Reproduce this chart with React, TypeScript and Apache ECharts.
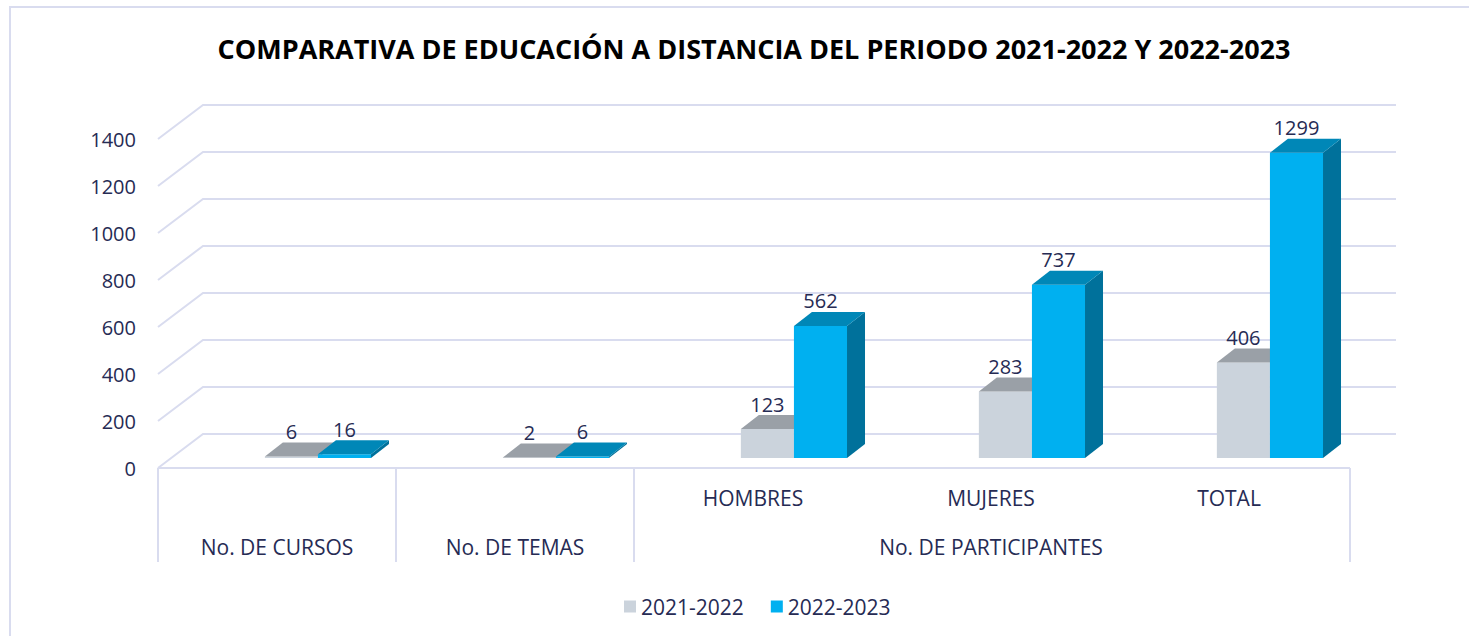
import React, { useEffect, useRef } from "react";
import * as echarts from "echarts";

const subCategories = ["", "", "HOMBRES", "MUJERES", "TOTAL"];
const groupNames = ["No. DE CURSOS", "No. DE TEMAS", "No. DE PARTICIPANTES"];
const groupStart = [0, 1, 2];
const groupEnd = [0, 1, 4];
const seriesNames = ["2021-2022", "2022-2023"];
const values2122 = [6, 2, 123, 283, 406];
const values2223 = [16, 6, 562, 737, 1299];
const yTicks = [0, 200, 400, 600, 800, 1000, 1200, 1400];
const titleText = "COMPARATIVA DE EDUCACIÓN A DISTANCIA DEL PERIODO 2021-2022 Y 2022-2023";

const FONT = "'Open Sans', sans-serif";
const TEXT = "#262B54";
const LINE = "#D9DCEF";
const DEPTH_X = 45;
const DEPTH_Y = -34;
const FS_NUM = 20;
const FS_CAT = 21;

const barColors = [
  { front: "#CBD3DC", top: "#9AA0A7", side: "#8A9096" },
  { front: "#00B0F0", top: "#0087B7", side: "#00719B" },
];

function makeBarRender(s: number) {
  return (params: any, api: any) => {
    const i = api.value(0);
    const v = api.value(1);
    const base = api.coord([i, 0]);
    const top = api.coord([i, v]);
    const catW = api.size([1, 0])[0];
    const bw = catW * 0.223;
    const x0 = base[0] + catW * 0.172 - bw + s * bw;
    const yb = base[1] - 10;
    const yt = top[1] - 10;
    const dx = 18;
    const dy = -14;
    const c = barColors[s];
    return {
      type: "group",
      children: [
        {
          type: "polygon",
          shape: { points: [[x0 + bw, yt], [x0 + bw + dx, yt + dy], [x0 + bw + dx, yb + dy], [x0 + bw, yb]] },
          style: { fill: c.side },
        },
        {
          type: "rect",
          shape: { x: x0, y: yt, width: bw, height: Math.max(yb - yt, 0) },
          style: { fill: c.front },
        },
        {
          type: "polygon",
          shape: { points: [[x0, yt], [x0 + dx, yt + dy], [x0 + bw + dx, yt + dy], [x0 + bw, yt]] },
          style: { fill: c.top },
        },
        {
          type: "text",
          x: x0 + bw / 2,
          y: yt + dy - 11,
          style: {
            text: String(v),
            align: "center",
            verticalAlign: "middle",
            fontSize: FS_NUM,
            fontFamily: FONT,
            fill: TEXT,
          },
        },
      ],
    };
  };
}

export default function App() {
  const ref = useRef<HTMLDivElement>(null);
  useEffect(() => {
    if (!ref.current) return;
    const chart = echarts.init(ref.current, undefined, { renderer: "svg" });
    const option: any = {
      animation: false,
      backgroundColor: "#ffffff",
      title: {
        text: titleText,
        left: 749,
        top: 30,
        textAlign: "center",
        textStyle: { fontFamily: FONT, fontWeight: "bold", fontSize: 27, color: "#000000" },
      },
      graphic: [
        {
          type: "rect",
          shape: { x: 10, y: 7, width: 1500, height: 700 },
          style: { fill: "none", stroke: LINE, lineWidth: 2 },
          silent: true,
          z: -10,
        },
      ],
      legend: {
        data: seriesNames,
        left: 619,
        top: 591,
        icon: "rect",
        itemWidth: 12,
        itemHeight: 12,
        itemGap: 27,
        textStyle: { fontFamily: FONT, fontSize: FS_CAT, color: TEXT },
      },
      grid: { left: 158, top: 139, width: 1190, height: 329, containLabel: false },
      xAxis: {
        type: "category",
        data: subCategories,
        boundaryGap: true,
        axisLine: { show: false },
        axisTick: { show: false },
        splitLine: { show: false },
        axisLabel: { margin: 19, fontFamily: FONT, fontSize: FS_CAT, color: TEXT },
      },
      yAxis: {
        type: "value",
        min: 0,
        max: 1400,
        interval: 200,
        axisLine: { show: false },
        axisTick: { show: false },
        splitLine: { show: false },
        axisLabel: {
          margin: 22,
          fontFamily: FONT,
          fontSize: FS_NUM,
          color: TEXT,
          formatter: (v: number) => String(v),
        },
      },
      series: [
        {
          type: "custom",
          name: "grid-walls",
          silent: true,
          z: 1,
          clip: false,
          data: yTicks.map((t) => [0, t]),
          renderItem: (params: any, api: any) => {
            const cs = params.coordSys;
            const y = api.coord([0, api.value(1)])[1];
            const x0 = cs.x;
            const xEnd = cs.x + cs.width + 48;
            return {
              type: "polyline",
              shape: { points: [[x0, y], [x0 + DEPTH_X, y + DEPTH_Y], [xEnd, y + DEPTH_Y]] },
              style: { stroke: LINE, lineWidth: 2, fill: "none" },
            };
          },
        },
        {
          type: "custom",
          name: "groups",
          silent: true,
          z: 1,
          clip: false,
          data: groupNames.map((n, k) => [groupStart[k], groupEnd[k]]),
          renderItem: (params: any, api: any) => {
            const k = params.dataIndex;
            const a = api.value(0);
            const b = api.value(1);
            const catW = api.size([1, 0])[0];
            const pa = api.coord([a, 0]);
            const pb = api.coord([b, 0]);
            const left = pa[0] - catW / 2;
            const right = pb[0] + catW / 2;
            const y0 = pa[1];
            const children: any[] = [
              {
                type: "line",
                shape: { x1: left, y1: y0, x2: right + 2, y2: y0 },
                style: { stroke: LINE, lineWidth: 2 },
              },
              {
                type: "line",
                shape: { x1: left, y1: y0, x2: left, y2: y0 + 94 },
                style: { stroke: LINE, lineWidth: 2 },
              },
              {
                type: "text",
                x: (left + right) / 2,
                y: y0 + 79,
                style: {
                  text: groupNames[k],
                  align: "center",
                  verticalAlign: "middle",
                  fontSize: FS_CAT,
                  fontFamily: FONT,
                  fill: TEXT,
                },
              },
            ];
            if (k === groupNames.length - 1) {
              children.push({
                type: "line",
                shape: { x1: right + 2, y1: y0, x2: right + 2, y2: y0 + 94 },
                style: { stroke: LINE, lineWidth: 2 },
              });
            }
            return { type: "group", children };
          },
        },
        {
          type: "custom",
          name: seriesNames[0],
          z: 2,
          clip: false,
          itemStyle: { color: barColors[0].front },
          data: values2122.map((v, i) => [i, v]),
          renderItem: makeBarRender(0),
        },
        {
          type: "custom",
          name: seriesNames[1],
          z: 3,
          clip: false,
          itemStyle: { color: barColors[1].front },
          data: values2223.map((v, i) => [i, v]),
          renderItem: makeBarRender(1),
        },
      ],
    };
    chart.setOption(option);
    return () => chart.dispose();
  }, []);
  return (
    <div
      ref={ref}
      style={{ position: "absolute", left: 0, top: 0, width: 1469, height: 636 }}
    />
  );
}
